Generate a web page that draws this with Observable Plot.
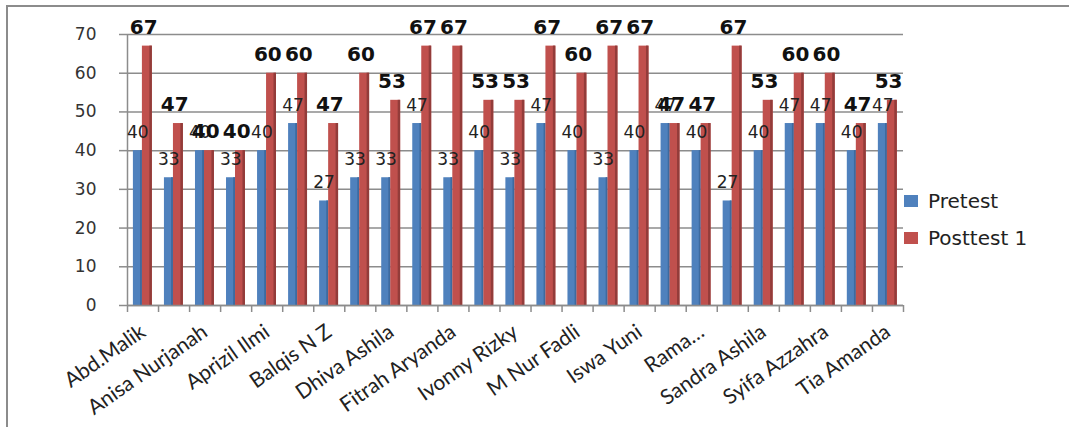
<!DOCTYPE html>
<html>
<head>
<meta charset="utf-8">
<script src="https://cdn.jsdelivr.net/npm/d3@7"></script>
<script src="https://cdn.jsdelivr.net/npm/@observablehq/plot@0.6"></script>
<style>
  body { margin: 0; background: #fff; }
  #wrap { position: relative; width: 1069px; height: 427px; overflow: hidden; background: #fff; font-family: "DejaVu Sans", sans-serif; }
  #frame { position: absolute; left: 6px; top: 5px; width: 1070px; height: 430px; border-top: 2px solid #8c8c8c; border-left: 2px solid #8c8c8c; box-sizing: border-box; }
  #chart { position: absolute; left: 0; top: 0; }
  .leg { position: absolute; left: 904px; font-size: 20px; color: #222; display: flex; align-items: center; height: 22px; white-space: nowrap; }
  .leg span.sw { display: inline-block; width: 14px; height: 12px; margin-right: 10px; }
</style>
</head>
<body>
<div id="wrap">
  <div id="frame"></div>
  <div id="chart"></div>
  <div id="legend"></div>
</div>
<script>
// ---- data ----
const series = ["Pretest", "Posttest 1"];
const pretest   = [40,33,40,33,40,47,27,33,33,47,33,40,33,47,40,33,40,47,40,27,40,47,47,40,47];
const posttest1 = [67,47,40,40,60,60,47,60,53,67,67,53,53,67,60,67,67,47,47,67,53,60,60,47,53];
const tickLabels = ["Abd.Malik","Anisa Nurjanah","Aprizil Ilmi","Balqis N Z","Dhiva Ashila","Fitrah Aryanda","Ivonny Rizky","M Nur Fadli","Iswa Yuni","Rama…","Sandra Ashila","Syifa Azzahra","Tia Amanda"];
const yTicks = [0,10,20,30,40,50,60,70];

// ---- styles ----
const colors = ["#4F81BD", "#C0504D"];
const darker = ["#3d6a9f", "#933c3a"];

const pre = pretest.map((v, i) => ({i, v}));
const post = posttest1.map((v, i) => ({i, v}));
const n = pretest.length;

const plot = Plot.plot({
  width: 1069,
  height: 427,
  marginLeft: 127,
  marginRight: 166,
  marginTop: 34,
  marginBottom: 122,
  style: {background: "transparent", fontFamily: "DejaVu Sans, sans-serif"},
  x: {domain: [0, n], axis: null},
  y: {domain: [0, 70], axis: null},
  marks: [
    Plot.gridY(yTicks, {stroke: "#8c8c8c", strokeOpacity: 1, strokeWidth: 1.5}),
    Plot.ruleX([0], {stroke: "#8c8c8c", strokeWidth: 1.5}),
    Plot.axisY({ticks: yTicks, tickSize: 8, tickPadding: 23, fontSize: 17, fill: "#333", stroke: "#8c8c8c", strokeWidth: 1.5, label: null}),
    // Pretest bars
    Plot.rectY(pre, {x1: d => d.i + 0.19, x2: d => d.i + 0.48, y: "v", fill: colors[0]}),
    Plot.rectY(pre, {x1: d => d.i + 0.42, x2: d => d.i + 0.48, y: "v", fill: darker[0]}),
    // Posttest bars
    Plot.rectY(post, {x1: d => d.i + 0.48, x2: d => d.i + 0.8, y: "v", fill: colors[1]}),
    Plot.rectY(post, {x1: d => d.i + 0.72, x2: d => d.i + 0.8, y: "v", fill: darker[1]}),
    Plot.ruleY([0], {stroke: "#8c8c8c", strokeWidth: 1.5}),
    // value labels
    Plot.text(pre, {x: d => d.i + 0.33, y: "v", text: "v", dy: -18, fontSize: 17, fill: "#222", lineAnchor: "middle"}),
    Plot.text(post, {x: d => d.i + 0.52, y: "v", text: "v", dy: -19, fontSize: 20, fontWeight: "bold", fill: "#111", lineAnchor: "middle"}),
    // category boundary ticks
    Plot.axisX({ticks: d3.range(0, n + 1), tickSize: 7, tickFormat: () => "", stroke: "#8c8c8c", strokeWidth: 1.5, label: null}),
    // category labels (every other shown)
    Plot.axisX({
      ticks: d3.range(0, n, 2).map(i => i + 0.5),
      tickSize: 0,
      tickPadding: 24,
      tickRotate: -35,
      dx: 0,
      fontSize: 21,
      fontFamily: "Lato, sans-serif",
      fill: "#222",
      tickFormat: t => tickLabels[(t - 0.5) / 2],
      label: null
    })
  ]
});
document.getElementById("chart").appendChild(plot);

const legend = document.getElementById("legend");
const legendTops = [190, 227];
series.forEach((s, k) => {
  const div = document.createElement("div");
  div.className = "leg";
  div.style.top = legendTops[k] + "px";
  div.innerHTML = `<span class="sw" style="background:${colors[k]}"></span>${s}`;
  legend.appendChild(div);
});
</script>
</body>
</html>
